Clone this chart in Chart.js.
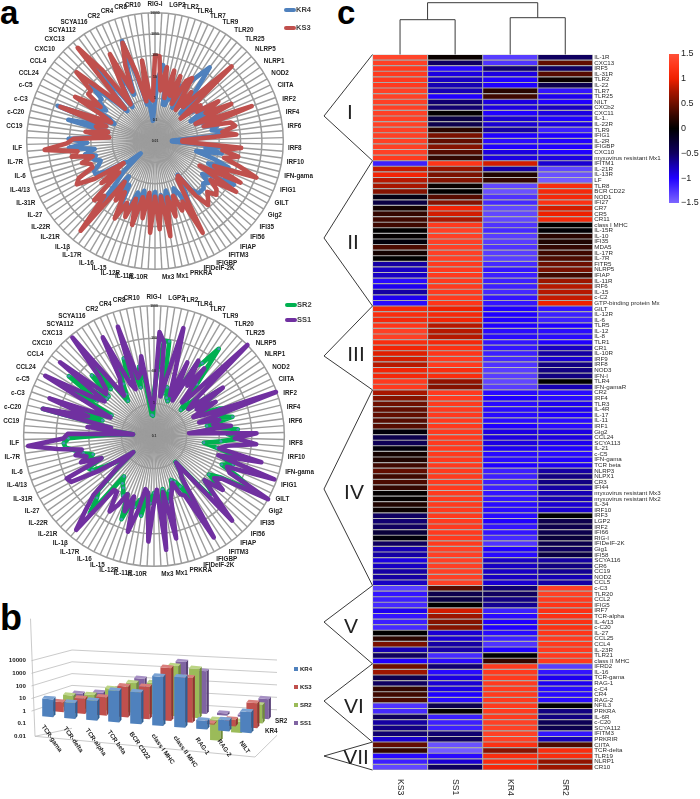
<!DOCTYPE html>
<html><head><meta charset="utf-8">
<style>
html,body{margin:0;padding:0;background:#fff;width:700px;height:799px;overflow:hidden;font-family:"Liberation Sans",Arial,sans-serif}
canvas{position:absolute;display:block}
.tag{position:absolute;font-weight:bold;color:#000;line-height:1}
.lg{position:absolute;font-size:7.5px;color:#404040;line-height:8px;font-weight:bold}
.lb{position:absolute;font-size:6px;color:#222;line-height:6px;font-weight:bold}
.sw{position:absolute;height:4px;border-radius:2px}
.sq{position:absolute;width:4px;height:4px}
</style>
<script src="https://cdn.jsdelivr.net/npm/chart.js@4/dist/chart.umd.js"></script>
</head><body>
<div class="tag" style="left:0;top:-4px;font-size:33px">a</div>
<div class="tag" style="left:0;top:600px;font-size:36px">b</div>
<div class="tag" style="left:337px;top:-4px;font-size:33px">c</div>
<canvas id="radarA" width="316" height="284" style="left:2px;top:-1px"></canvas>
<canvas id="radarB" width="319" height="291" style="left:0;top:291px"></canvas>
<canvas id="bars" width="340" height="200" style="left:0;top:596px"></canvas>
<canvas id="heat" width="345" height="799" style="left:320px;top:0"></canvas>
<canvas id="cbar" width="40" height="170" style="left:660px;top:45px"></canvas>
<div class="sw" style="left:284px;top:8px;width:12px;background:#4f81bd"></div><div class="lg" style="left:296px;top:6px">KR4</div>
<div class="sw" style="left:284px;top:26px;width:12px;background:#c0504d"></div><div class="lg" style="left:296px;top:24px">KS3</div>
<div class="sw" style="left:285px;top:303px;width:12px;background:#00b050"></div><div class="lg" style="left:297px;top:301px">SR2</div>
<div class="sw" style="left:285px;top:318px;width:12px;background:#7030a0"></div><div class="lg" style="left:297px;top:316px">SS1</div>
<div class="sq" style="left:294px;top:667px;background:#4f81bd"></div><div class="lb" style="left:300px;top:666px">KR4</div>
<div class="sq" style="left:294px;top:685px;background:#c0504d"></div><div class="lb" style="left:300px;top:684px">KS3</div>
<div class="sq" style="left:294px;top:703px;background:#9bbb59"></div><div class="lb" style="left:300px;top:702px">SR2</div>
<div class="sq" style="left:294px;top:721px;background:#8064a2"></div><div class="lb" style="left:300px;top:720px">SS1</div>
<script>
// ---------- radar categories ----------
const radarNames = ['RIG-I','LGP2','TLR2','TLR4','TLR7','TLR9','TLR20','TLR25','NLRP5','NLRP1','NOD2','CIITA','IRF2','IRF4','IRF6','IRF8','IRF10','IFN-gama','IFIG1','GILT','Gig2','IFI35','IFI56','IFIAP','IFITM3','IFIGBP','IFIDeIF-2K','PRKRA','Mx1','Mx3','IL-10R','IL-11R','IL-12R','IL-15','IL-16','IL-17R','IL-1β','IL-21R','IL-22R','IL-27','IL-31R','IL-4/13','IL-6','IL-7R','ILF','CC19','c-C20','c-C3','c-C5','CCL24','CCL4','CXC10','CXC13','SCYA112','SCYA116','CR2','CR4','CR8','CR10'];
// ---------- radar series (fold change) ----------
const ks3 = [100,92,2.4,31,1.15,26,1.7,18,.8,15,26,.56,7,1.15,10,1000,.39,5,2.4,31,5,92,1.15,640,2.4,45,65,15,65,.19,.19,110,15,92,21,134,1100,10,280,2.4,300,15,45,65,26,45,78,15,.9,1.15,690,13,31,5,45,5,320,4.1,134,4.1,195,2.7,45,5,116,7,65,15,120,6,21,2.4,2800,31,92,1.7,15,.62,21,150,92,15,15,37,10,92,45,1500,134,65,1.4,19,1.7,7,2.4,500,1.7,5,185,10,65,65,770,15,1.15,4600,134,1.15,15,375,3.5,65,690,21,.8,65,1.15,.8];
const kr4 = [.8,10,37,15,.56,.56,5,1.15,7,.56,15,45,195,7,.56,15,.8,1.7,5,5,.8,10,1.15,31,2.4,10,5,21,5,.062,.062,21,2.4,15,.96,7,45,5,31,167,10,5,15,10,15,15,15,7,.8,7,45,5,2.4,10,18,2.4,15,3.5,45,2.4,7,3.5,15,2.4,10,3.5,31,31,31,2.4,5,1.15,400,5,1.15,.077,.39,.56,5,15,15,7,5,10,7,21,7,110,15,110,2.4,10,1.7,150,2.4,690,1.15,2.4,65,5,15,15,92,5,.8,580,10,.8,8.6,65,2.4,21,830,10,.56,15,.089,.19];
const ss1 = [1.07,156,77,1.7,7.1,270,11.5,2.2,30,1.7,48,7.1,38,2.2,5.6,1000,4.5,2.2,38,3.5,14.5,2.2,4.5,950,2.8,11.5,7.1,24,1.2,140,30,140,18,11,245,11.5,840,27,38,1000,30,18,48,11.5,38,340,1.15,2.2,3.5,410,11.5,9.1,3.5,5.6,9.1,165,5.6,325,4.5,11.5,175,5.6,4.5,24,110,9.1,30,9.1,24,48,11.5,11.5,550,123,38,3.5,.64,1.7,11.5,80,95,5.6,24,14.5,30,18,98,750,60,44,.44,11.5,2.2,325,13,255,2.8,11.5,650,21,7.1,460,9.1,11.5,30,840,3.5,7.1,11.5,255,5.6,3.5,340,7.1,9.1,30,1.4,.67];
const sr2 = [2.2,11.5,87,87,2.2,3.5,1.7,1.4,2.2,2.8,30,48,215,11.5,2.8,1.4,5.6,2.2,30,4.5,11.5,3.5,14.5,30,11.5,30,4.5,9.1,38,18,48,11.5,3.5,9.1,48,14.5,38,18,77,316,24,11.5,42,11.5,30,30,1.07,2.2,3.5,24,5.6,3.5,2.8,5.4,5.6,11.5,4.5,14.5,9.1,5.6,11.5,5.8,30,10,18,11.5,55,9.1,11.5,7.1,5.6,3.5,123,38,24,2.8,.64,2.2,5.6,14.5,18,5.6,17,9.1,17,27,54,60,42,2.8,.44,5.6,2.2,325,4.5,24,3.5,2.8,98,11.5,156,7.1,7.1,46,9.1,123,2.2,3.5,7.1,24,8.6,36,30,3.5,15,5.6,.45,.42];
// ---------- 3D bar panel ----------
const barCategories = ['TCR-gama','TCR-delta','TCR-alpha','TCR beta','BCR CD22','class I MHC','class II MHC','RAG-1','RAG-2','NILT'];
const barKR4 = [16,12,22,137,144,2200,2600,4,5.6,27];
const barKS3 = [5,12,20,160,200,6000,1600,1.2,3,60];
const barSR2 = [8,12,47,170,230,6000,5000,.027,.14,24];
const barSS1 = [6,10,25,230,150,9000,2300,1.5,1.5,38];
// ---------- heat map ----------
const heatRows = ['IL-1R','CXC13','IRF5','IL-31R','TLR2','IL-22','TLR7','TLR25','NILT','CXCb2','CXC11','IL-1..','IL-22R','TLR9','IFIG1','IL-2R','IFIGBP','CXC10','myxovirus resistant Mx1','IFITM1','IL-21R','IL-13R','LF','TLR8','BCR CD22','NOD1','IFI27','CR7','CR5','CR11','class I MHC','IL-15R','IL-10','IFI35','MDA5','IL-17R','IL-7R','FITR5','NLRP5','IFIAP','IL-11R','IRF6','IL-15','c-C2','GTP-binding protein Mx','GILT','IL-12R','IL-6','TLR5','IL-12','IL-8','TLR1','CR1','IL-10R','IRF9','IRF8','NOD3','IFN-I','TLR4','IFN-gamaR','CR2','IRF4','TLR3','IL-4R','IL-17','IL-11','IRF1','Gig2','CCL24','SCYA113','IL-21','c-C5','IFN-gama','TCR beta','NLRP3','NLPX1','CR3','IFI44','myxovirus resistant Mx3','myxovirus resistant Mx2','IL-34','IRF10','IRF3','LGP2','IRF2','IFI66','RIG-I','IFIDeIF-2K','Gig1','IFI58','SCYA116','CR6','CC19','NOD2','CCL5','c-C3','TLR20','CCL2','IFIG5','IRF7','TCR-alpha','IL-4/13','c-C20','IL-27','CCL25','CCL4','IL-23R','TLR21','class II MHC','IFRD2','IL-16','TCR-gama','RAG-1','c-C4','CR4','RAG-2','NFIL3','PRKRA','IL-6R','c-C20','SCYA112','IFITM3','PRKRIR','CIITA','TCR-delta','TLR19','NLRP1','CR10'];
const heatColumns = ['KS3','SS1','KR4','SR2'];
const zKS3 = [1.4,1.35,1.3,1.3,1.3,1.3,1.35,1.35,1.35,1.35,1.35,1.35,1.35,1.35,1.35,1.35,1.35,1.35,1.3,-1.15,.85,1.05,.8,.75,.6,-.1,-.35,.1,.25,.3,.3,0,.02,-.05,.35,.1,0,-.7,-.8,-.8,-1.05,-.95,-.7,-.95,-1.05,1.1,1.15,1.1,1.25,1.35,1.35,1.15,1.05,.95,.9,.8,1.05,1.1,1.3,1.3,.75,.6,.5,.45,.45,.4,.4,-.05,-.4,-.45,-.05,.1,.15,.3,.45,.3,.35,.25,.02,.02,.15,.05,-.5,-.55,-.5,-.3,-.05,-.5,-.75,-.7,-.9,-.8,-.7,-.7,-.8,-1.3,-1.1,-1.15,-1.2,-.95,-1.1,-1.15,-1.2,0,.2,.55,-.75,-.5,-1,.5,.7,-.4,-.5,.25,.3,.35,-1.25,-1.2,-.5,-.7,-.6,-.55,-.85,.45,.25,-1.05,-1.15,-1.35];
const zSS1 = [.05,-.5,-1.05,-.9,-.8,-.75,-.75,-1,-.55,-.55,.02,-.35,-.4,.2,.55,.45,.6,.4,.25,1.25,.65,.55,.6,.05,0,.4,.6,1.05,.9,.75,1.3,1.35,1.35,1.35,1.35,1.35,1.35,1.3,1.3,1.3,1.3,1.3,1.3,1.3,1.25,1,1.1,1.05,.8,.8,.8,1.1,1.2,1.25,1.3,1.3,1.15,1.15,.65,.6,1.3,1.3,1.3,1.3,1.3,1.3,1.3,1.3,1.3,1.3,1.3,1.3,1.3,1.3,1.3,1.3,1.3,1.3,1.3,1.3,1.3,1.3,1.3,1.3,1.3,1.3,1.3,1.3,1.35,1.35,1.35,1.35,1.35,1.35,1.35,.4,-.4,-.35,0,.9,.7,.6,.6,-.85,-.85,-.7,-.7,-1.2,-1.05,-.55,-1.05,-.9,-.85,-.9,-1,-1.05,-.4,.02,-1.15,-1.15,-1.15,-.55,-.5,-1.4,-1.45,-1.05,-.85,-.5];
const zKR4 = [-1.3,-1.25,-.55,-.9,-1,-1,.2,.3,-.9,-.9,-1,-.85,-.85,-.7,-1,-1.05,-1,-.9,-.9,.9,-.7,.15,.25,-1.35,-1.4,-1.25,-1.2,-1.35,-1.35,-1.35,-1.25,-1.2,-1.3,-1.3,-1.25,-1.3,-1.3,-1.2,-1.1,-1.15,-1.15,-1.15,-1.2,-1.1,-1.1,-1,-1,-1,-1,-1.05,-1.05,-1.1,-1.1,-1.15,-1.2,-1.25,-1.3,-1.3,-1.35,-1.3,-1.05,-1,-1.05,-1.05,-1.05,-1.05,-1,-.9,-.9,-.9,-.95,-1.05,-1.05,-1,-1.15,-1.15,-1.15,-1.15,-1.1,-1.1,-1.05,-1.05,-1.05,-1,-1.1,-1.1,-1.2,-1.25,-1,-1.05,-.8,-.8,-.8,-.8,-.85,-.55,-.5,-.6,-.65,-1.15,-1.05,-1,-1,-1.05,-1.15,-1.25,-1,0,.25,1.3,1.3,1.3,1.3,1.3,1.3,1.3,1.3,1.3,1.3,1.35,1.35,1.35,1.35,1.2,.6,1.15,1.15,1.1];
const zSR2 = [-.5,.45,-.5,.4,.05,-.4,-1.1,-.95,-1,-.8,-.9,-1,-.9,-1.15,-1,-1,-1,-1,-.9,-.85,-1.35,-1.4,-1.45,1.15,1.1,1.1,1.2,.9,1,1.1,0,-.02,.2,.15,.25,.3,.35,.5,.55,.3,.7,.8,.8,.85,1,-1.1,-1.15,-1.15,-1,-1.05,-1.05,-1,-.8,-.7,-.85,-.6,-.6,-.6,0,-.75,-1.05,-1.05,-.95,-.95,-1,-1.05,-1.05,-.9,-.9,-.95,-1,-1.05,-1,-.95,-.7,-.6,-.6,-.7,-.75,-.75,-.85,-.85,0,-.4,-.4,-.4,-.3,-.4,-.5,-.35,-.7,-.6,-.65,-.75,-.7,1.35,1.35,1.3,1.25,1.2,1.2,1.2,1.2,1.25,1.3,1.3,1.3,1.3,1.3,-1.3,-1.1,-.95,-.95,-1.05,-1.05,-1.05,0,-.6,-.6,-.45,-.4,-1.1,-.75,.35,1.15,1.15,.65,.7];
const clusterNames = ['I','II','III','IV','V','VI','VII'];
const clusterEnds = [19,45,60,95,109,123,128];
const colorTicks = [-1.5,-1,-.5,0,.5,1,1.5];
const zStops = [-1.5,-1,-.75,-.5,-.25,0,.25,.5,.75,1,1.25,1.5];
const zColors = ['#7d66ff','#2000ff','#1600b4','#0f0060','#070030','#000000','#330600','#6e0f00','#a81600','#ef2000','#ff3518','#ff5038'];

Chart.defaults.font.family = '"Liberation Sans", Arial, sans-serif';
Chart.defaults.animation = false;
Chart.defaults.responsive = false;
Chart.defaults.plugins.legend.display = false;
Chart.defaults.plugins.tooltip.enabled = false;

const hex = h => [1,3,5].map(i => parseInt(h.substr(i,2),16));
function zColor(z){
  let i = 0;
  while (i < zStops.length-2 && z > zStops[i+1]) i++;
  const t = Math.min(1, Math.max(0, (z-zStops[i])/(zStops[i+1]-zStops[i])));
  const a = hex(zColors[i]), b = hex(zColors[i+1]);
  return 'rgb(' + a.map((v,k) => Math.round(v+(b[k]-v)*t)).join(',') + ')';
}

// ---------- radars ----------
const radarLabels = [];
radarNames.forEach(n => { radarLabels.push(n); radarLabels.push(''); });
function radar(id, series, min, max, labelSize){
  new Chart(document.getElementById(id), {
    type: 'radar',
    data: { labels: radarLabels, datasets: series.map(s => ({
      label: s.label, data: s.data.map(Math.log10), borderColor: s.color, backgroundColor: s.color,
      borderWidth: 4.6, borderJoinStyle: 'round', borderCapStyle: 'round', fill: false, tension: 0,
      pointRadius: s.dot ? 1.4 : 0, pointBackgroundColor: '#4a90b5', pointBorderWidth: 0
    })) },
    options: {
      layout: { padding: 0 },
      scales: { r: {
        min, max,
        grid: { circular: true, color: '#9c9c9c', lineWidth: 1.5 },
        angleLines: { color: '#9c9c9c', lineWidth: 1.4 },
        border: { display: false },
        ticks: { stepSize: 1, z: 5, backdropColor: 'rgba(0,0,0,0)', color: '#222', font: { size: 3.4, weight: 'bold' },
          callback: v => String(+Math.pow(10, v).toPrecision(2)) },
        pointLabels: { display: true, color: '#222', padding: 1, font: { size: labelSize, weight: 'bold' } }
      } }
    }
  });
}
radar('radarA', [{label:'KS3',data:ks3,color:'#c0504d'},{label:'KR4',data:kr4,color:'#4f81bd'}], -2, 4, 6.3);
radar('radarB', [{label:'SS1',data:ss1,color:'#7030a0'},{label:'SR2',data:sr2,color:'#00b050',dot:true}], -1, 3, 6.3);

// ---------- 3D bars ----------
// page-pixel rows: front to back, matches the perspective of the floor
const rowGeom = [
  {x0:47.7, s:22,   b0:120.7, slope:.081, d:14.7},
  {x0:58.3, s:21.5, b0:115.7, slope:.083, d:14},
  {x0:68.3, s:21,   b0:111.3, slope:.083, d:13.3},
  {x0:77.3, s:20.7, b0:107.3, slope:.083, d:12.7}
];
function rowMatrix(chart, idx){
  const g = rowGeom[idx], xs = chart.scales.x, ys = chart.scales.y;
  const sn = xs.getPixelForTick(1)-xs.getPixelForTick(0), x0n = xs.getPixelForTick(0);
  const dn = ys.getPixelForValue(1)-ys.getPixelForValue(10), y1n = ys.getPixelForValue(1);
  const a = g.s/sn, c = g.slope*g.s/sn, d = g.d/dn;
  const e = g.x0-a*x0n, f = g.b0-c*x0n-d*y1n;
  return {a,c,d,e,f};
}
const barFaces = {
  id:'barFaces',
  beforeDatasetDraw(chart,args){
    const m = rowMatrix(chart,args.index);
    chart.ctx.save();
    chart.ctx.transform(m.a,m.c,0,m.d,m.e,m.f);
  },
  afterDatasetDraw(chart,args){
    const ctx = chart.ctx, ds = chart.data.datasets[args.index];
    const els = args.meta.data;
    const ox = 2.6, oy = 2.6;
    els.forEach(el => {
      const p = el.getProps(['x','y','base','width'],true);
      const r = p.x+p.width/2, l = p.x-p.width/2, top = Math.min(p.y,p.base), bot = Math.max(p.y,p.base);
      ctx.fillStyle = ds.sideColor;
      ctx.beginPath(); ctx.moveTo(r,top); ctx.lineTo(r+ox,top-oy); ctx.lineTo(r+ox,bot-oy); ctx.lineTo(r,bot); ctx.closePath(); ctx.fill();
      ctx.fillStyle = ds.topColor;
      ctx.beginPath(); ctx.moveTo(l,top); ctx.lineTo(l+ox,top-oy); ctx.lineTo(r+ox,top-oy); ctx.lineTo(r,top); ctx.closePath(); ctx.fill();
    });
    ctx.restore();
  },
  beforeDatasetsDraw(chart){
    const ctx = chart.ctx, ys = chart.scales.y;
    ctx.save();
    ctx.strokeStyle = '#bdbdbd'; ctx.lineWidth = .8;
    const line = pts => { ctx.beginPath(); pts.forEach((p,i)=> i?ctx.lineTo(p[0],p[1]):ctx.moveTo(p[0],p[1])); ctx.stroke(); };
    for (let k=0;k<=4;k++){
      const v = Math.pow(10,4-k), y = ys.getPixelForValue(v);
      line([[31.5,y],[72,y-10.7-(k*.8)],[277,y-.7-(k*.15)]]);
    }
    const yb = ys.getPixelForValue(.01);
    line([[30.5,ys.getPixelForValue(10000)-42],[35,yb]]);
    line([[35,yb],[255,yb+20.7],[277,yb-1]]);
    line([[35,yb],[72,yb-8]]);
    ctx.restore();
  },
  afterDraw(chart){
    const ctx = chart.ctx, g = rowGeom[0];
    ctx.save();
    ctx.fillStyle = '#222'; ctx.font = 'bold 6.3px "Liberation Sans"';
    ctx.textAlign = 'left'; ctx.textBaseline = 'middle';
    chart.data.labels.forEach((t,i) => {
      const x = g.x0+g.s*i-5;
      const y = g.b0+g.slope*g.s*i+9;
      ctx.save(); ctx.translate(x,y); ctx.rotate(55*Math.PI/180); ctx.fillText(t,0,0); ctx.restore();
    });
    ctx.fillText(chart.data.datasets[2].label,275,125.7);
    ctx.fillText(chart.data.datasets[0].label,265,135.7);
    ctx.restore();
  }
};
const barRow = (label,data,color,side,top) => ({label,data,base:1,backgroundColor:color,sideColor:side,topColor:top,clip:false,barPercentage:.5,categoryPercentage:1,grouped:false});
new Chart(document.getElementById('bars'), {
  type:'bar',
  data:{ labels:barCategories, datasets:[
    barRow('KR4',barKR4,'#4f81bd','#2f5f93','#7ba3d4'),
    barRow('KS3',barKS3,'#c0504d','#8f3533','#d97f7c'),
    barRow('SR2',barSR2,'#9bbb59','#708c38','#bcd585'),
    barRow('SS1',barSS1,'#8064a2','#5a4278','#a690c4')
  ]},
  plugins:[barFaces],
  options:{
    layout:{padding:{top:64.7,bottom:51.7,left:0,right:60}},
    scales:{
      x:{ticks:{display:false},grid:{display:false},border:{display:false}},
      y:{type:'logarithmic',min:.01,max:10000,afterFit(s){s.width=28;},grid:{display:false,drawTicks:false},border:{display:false},
        ticks:{autoSkip:false,padding:2,color:'#222',font:{size:6.2,weight:'bold'},
          callback(v){const l=Math.log10(v);return Math.abs(l-Math.round(l))<1e-9?String(v):'';}}}
    }
  }
});

// ---------- heat map ----------
const heatExtras = {
  id:'heatExtras',
  afterDraw(chart){
    const ctx = chart.ctx, xs = chart.scales.x, top = chart.chartArea.top, bottom = chart.chartArea.bottom;
    ctx.save();
    ctx.strokeStyle = '#3a3a3a'; ctx.lineWidth = 1;
    const cx = i => xs.getPixelForValue(i+.5);
    const mid1 = (cx(0)+cx(1))/2, mid2 = (cx(2)+cx(3))/2;
    const poly = pts => { ctx.beginPath(); pts.forEach((p,i)=> i?ctx.lineTo(p[0],p[1]):ctx.moveTo(p[0],p[1])); ctx.stroke(); };
    poly([[cx(0),top],[cx(0),19.7],[cx(1),19.7],[cx(1),top]]);
    poly([[cx(2),top],[cx(2),17.7],[cx(3),17.7],[cx(3),top]]);
    poly([[mid1,19.7],[mid1,2.7],[mid2,2.7],[mid2,17.7]]);
    const rowH = (bottom-top)/chart.data.labels.length, left = chart.chartArea.left;
    const apex = [116,238,356,489,622,701,756], textX = [30,33,36,34,31,34,36], textY = [113,243,355,493,627,707,758];
    ctx.strokeStyle = '#222'; ctx.lineWidth = .9;
    ctx.fillStyle = '#222'; ctx.font = '21px "Liberation Sans"'; ctx.textAlign='center'; ctx.textBaseline='middle';
    let start = 0;
    clusterEnds.forEach((end,i) => {
      poly([[left,top+start*rowH],[4,apex[i]],[left,top+end*rowH]]);
      start = end;
      ctx.fillText(clusterNames[i],textX[i],textY[i]);
    });
    ctx.fillStyle = '#222'; ctx.font = '8.6px "Liberation Sans"'; ctx.textAlign='left';
    heatColumns.forEach((n,i) => {
      ctx.save(); ctx.translate(cx(i),bottom+9); ctx.rotate(Math.PI/2); ctx.fillText(n,0,0); ctx.restore();
    });
    ctx.restore();
  }
};
const heatSeries = [zKS3,zSS1,zKR4,zSR2];
new Chart(document.getElementById('heat'), {
  type:'bar',
  data:{ labels:heatRows, datasets: heatColumns.map((n,c) => ({
    label:n,
    data: heatRows.map(() => [c,c+1]),
    backgroundColor: heatSeries[c].map(zColor),
    borderColor:'#a9a9a9', borderWidth:.9, borderSkipped:false,
    barPercentage:1, categoryPercentage:1, grouped:false
  })) },
  plugins:[heatExtras],
  options:{
    indexAxis:'y',
    layout:{padding:{top:54.5,left:52.5,right:0,bottom:0}},
    scales:{
      x:{type:'linear',min:0,max:4,afterFit(s){s.height=29;},ticks:{display:false},grid:{display:false},border:{display:false}},
      y:{type:'category',position:'right',afterFit(s){s.width=72.2;},grid:{display:false,drawTicks:false},border:{display:false},
        ticks:{autoSkip:false,padding:1.5,color:'#2a2a2a',font:{size:6.2}}}
    }
  }
});

// ---------- colour key ----------
new Chart(document.getElementById('cbar'), {
  type:'bar',
  data:{ labels:['key'], datasets:[{
    data:[[colorTicks[0],colorTicks[colorTicks.length-1]]],
    barPercentage:1, categoryPercentage:1,
    backgroundColor(c){
      const area = c.chart.chartArea; if(!area) return '#000';
      const ys = c.chart.scales.y;
      const g = c.chart.ctx.createLinearGradient(0,ys.getPixelForValue(-1.5),0,ys.getPixelForValue(1.5));
      zStops.forEach((z,i) => g.addColorStop((z+1.5)/3,zColors[i]));
      return g;
    }
  }]},
  options:{
    layout:{padding:{left:9,top:9,bottom:12,right:0}},
    scales:{
      x:{display:false},
      y:{position:'right',min:-1.5,max:1.5,afterFit(s){s.width=21;},grid:{display:false,drawTicks:false},border:{display:false},
        ticks:{stepSize:.5,padding:2,color:'#222',font:{size:9},callback:v=>String(v).replace('-','\u2212')}}
    }
  }
});
</script>
</body></html>
